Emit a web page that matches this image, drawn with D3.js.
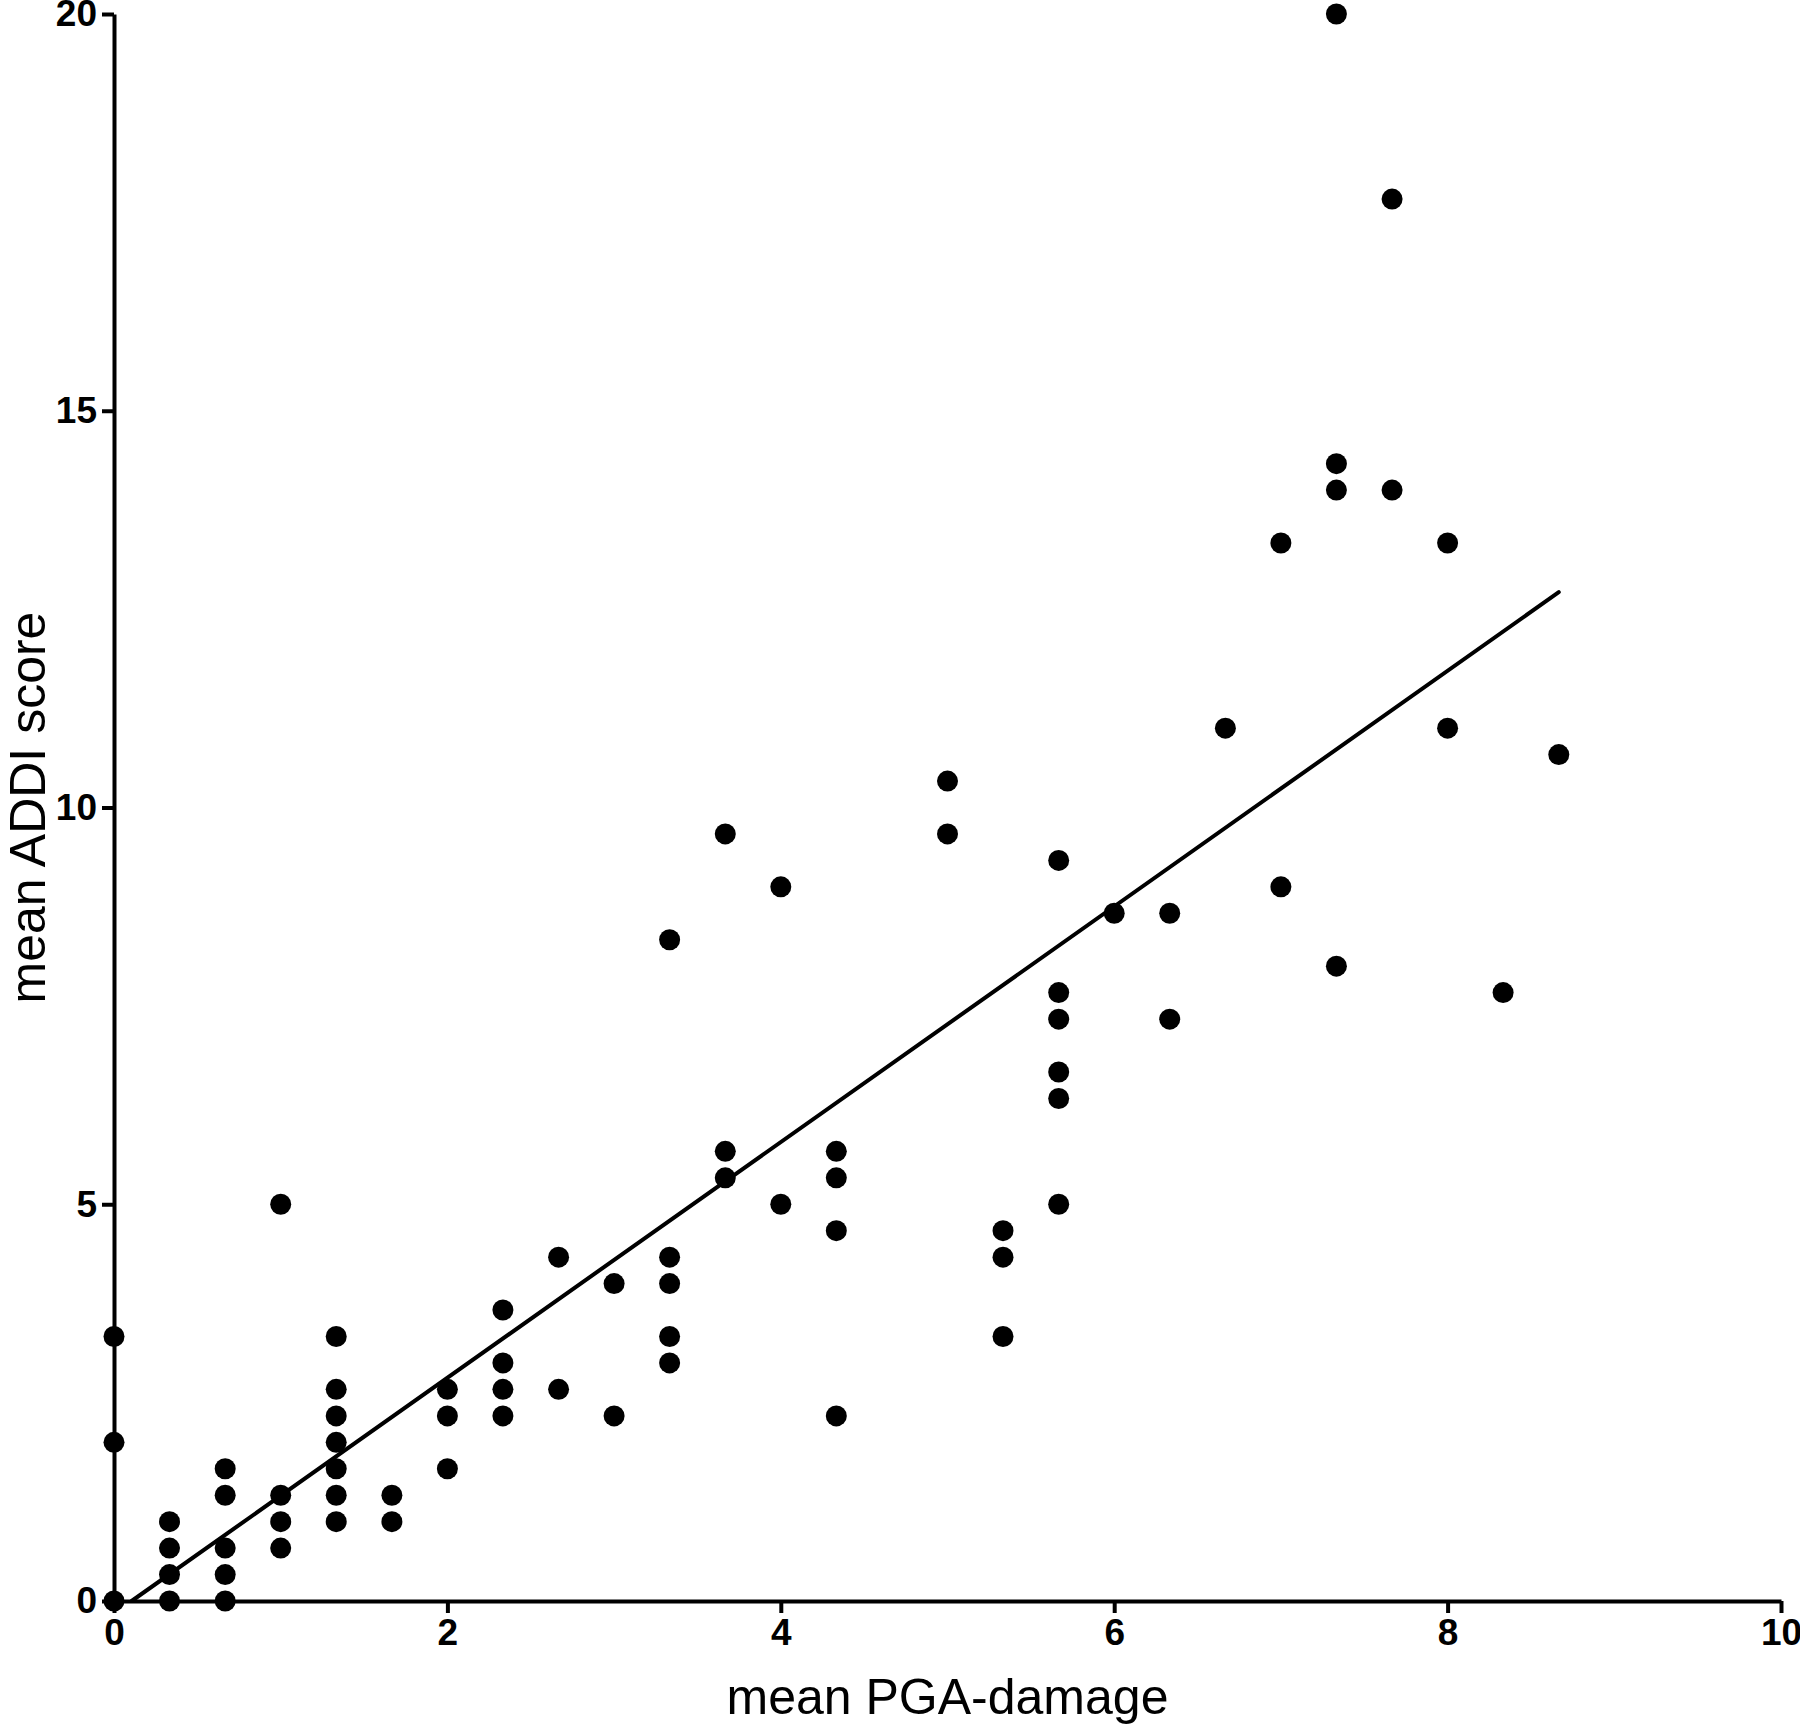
<!DOCTYPE html>
<html>
<head>
<meta charset="utf-8">
<title>mean ADDI score vs mean PGA-damage</title>
<script src="https://cdn.jsdelivr.net/npm/d3@7"></script>
<style>
  body { margin: 0; background: #fff; }
  .tick text { font-family: "Liberation Sans", Arial, sans-serif; font-weight: bold; font-size: 37px; fill: #000; }
  .axisText { font-family: "Liberation Sans", Arial, sans-serif; font-size: 50px; fill: #000; }
</style>
</head>
<body>
<div id="scatter"></div>
<script>
// data: x and y are thirds (means of 3 raters)
var pgaDamage = [
  0, 0, 0,
  0.333, 0.333, 0.333, 0.333,
  0.667, 0.667, 0.667, 0.667, 0.667,
  1, 1, 1, 1,
  1.333, 1.333, 1.333, 1.333, 1.333, 1.333, 1.333,
  1.667, 1.667,
  2, 2, 2,
  2.333, 2.333, 2.333, 2.333,
  2.667, 2.667,
  3, 3,
  3.333, 3.333, 3.333, 3.333, 3.333,
  3.667, 3.667, 3.667,
  4, 4,
  4.333, 4.333, 4.333, 4.333,
  5, 5,
  5.333, 5.333, 5.333,
  5.667, 5.667, 5.667, 5.667, 5.667, 5.667,
  6,
  6.333, 6.333,
  6.667,
  7, 7,
  7.333, 7.333, 7.333, 7.333,
  7.667, 7.667,
  8, 8,
  8.333,
  8.667
];
var addiScore = [
  0, 2, 3.333,
  0, 0.333, 0.667, 1,
  0, 0.333, 0.667, 1.333, 1.667,
  0.667, 1, 1.333, 5,
  1, 1.333, 1.667, 2, 2.333, 2.667, 3.333,
  1, 1.333,
  1.667, 2.333, 2.667,
  2.333, 2.667, 3, 3.667,
  2.667, 4.333,
  2.333, 4,
  3, 3.333, 4, 4.333, 8.333,
  5.333, 5.667, 9.667,
  5, 9,
  2.333, 4.667, 5.333, 5.667,
  9.667, 10.333,
  3.333, 4.333, 4.667,
  5, 6.333, 6.667, 7.333, 7.667, 9.333,
  8.667,
  7.333, 8.667,
  11,
  9, 13.333,
  8, 14, 14.333, 20,
  14, 17.667,
  11, 13.333,
  7.667,
  10.667
];

// fitted line as drawn in the picture
var fitSlope = 1.485;
var fitIntercept = -0.157;
var fitXmax = 8.667;

var xTicks = [0, 2, 4, 6, 8, 10];
var yTicks = [0, 5, 10, 15, 20];

// Step 1: chart size
var svgWidth = 1800;
var svgHeight = 1730;
var margin = { top: 14, right: 19, bottom: 129, left: 114 };
var width = svgWidth - margin.left - margin.right;
var height = svgHeight - margin.top - margin.bottom;

// Step 2: svg wrapper + group
var svg = d3.select("#scatter")
  .append("svg")
  .attr("width", svgWidth)
  .attr("height", svgHeight);

var chartGroup = svg.append("g")
  .attr("transform", `translate(${margin.left}, ${margin.top})`);

var data = pgaDamage.map(function(x, i) {
  return { pga: x, addi: addiScore[i] };
});

// Step 3: scales
var xLinearScale = d3.scaleLinear().domain([0, 10]).range([0, width]);
var yLinearScale = d3.scaleLinear().domain([0, 20]).range([height, 0]);

// Step 4: axes
var bottomAxis = d3.axisBottom(xLinearScale)
  .tickValues(xTicks).tickSize(12).tickPadding(6).tickSizeOuter(0);
var leftAxis = d3.axisLeft(yLinearScale)
  .tickValues(yTicks).tickSize(12).tickPadding(5).tickSizeOuter(0);

var xAxisG = chartGroup.append("g")
  .attr("transform", `translate(0, ${height})`)
  .call(bottomAxis);

var yAxisG = chartGroup.append("g")
  .call(leftAxis);

[xAxisG, yAxisG].forEach(function(g) {
  g.select(".domain").attr("stroke", "#000").attr("stroke-width", 4);
  g.selectAll(".tick line").attr("stroke", "#000").attr("stroke-width", 4);
});

// Step 5: regression line (starts where it crosses y = 0)
var fitLine = [
  { x: -fitIntercept / fitSlope, y: 0 },
  { x: fitXmax, y: fitSlope * fitXmax + fitIntercept }
];
chartGroup.append("path")
  .datum(fitLine)
  .attr("fill", "none")
  .attr("stroke", "#000")
  .attr("stroke-width", 4)
  .attr("stroke-linecap", "round")
  .attr("d", d3.line().x(d => xLinearScale(d.x)).y(d => yLinearScale(d.y)));

// Step 6: points
chartGroup.selectAll("circle")
  .data(data)
  .enter()
  .append("circle")
  .attr("cx", d => xLinearScale(d.pga))
  .attr("cy", d => yLinearScale(d.addi))
  .attr("r", 10.5)
  .attr("fill", "#000");

// Step 7: axis titles
chartGroup.append("text")
  .attr("x", width / 2)
  .attr("y", height + 113)
  .attr("text-anchor", "middle")
  .attr("class", "axisText")
  .text("mean PGA-damage");

chartGroup.append("text")
  .attr("transform", "rotate(-90)")
  .attr("x", 0 - (height / 2))
  .attr("y", 0 - margin.left + 45)
  .attr("text-anchor", "middle")
  .attr("class", "axisText")
  .text("mean ADDI score");
</script>
</body>
</html>
